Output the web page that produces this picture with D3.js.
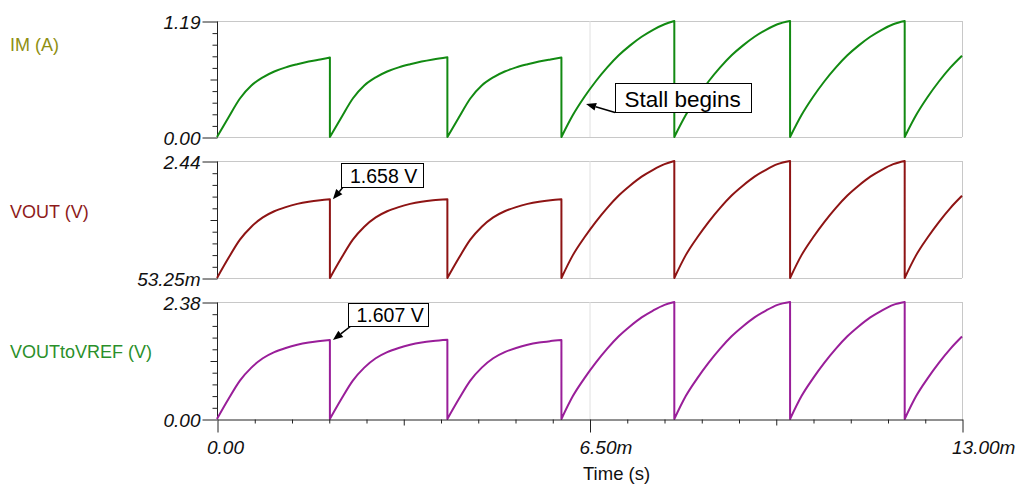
<!DOCTYPE html>
<html><head><meta charset="utf-8">
<script src="https://cdn.jsdelivr.net/npm/d3@7"></script>
<style>
body{margin:0;background:#fff;}
svg{display:block;font-family:"Liberation Sans",Arial,Helvetica,sans-serif;}
</style>
</head><body>
<svg id="chart" width="1018" height="484"></svg>
<script>
// ---------- data ----------
const timeMs = [
  0, 0.2, 0.4, 0.6, 0.8, 1.0, 1.2, 1.4, 1.6, 1.8, 1.97,
  1.97, 2.17, 2.37, 2.57, 2.77, 2.97, 3.17, 3.37, 3.57, 3.77, 4.02,
  4.02, 4.22, 4.42, 4.62, 4.82, 5.02, 5.22, 5.42, 5.62, 5.82, 6.01,
  6.01, 6.21, 6.41, 6.61, 6.81, 7.01, 7.21, 7.41, 7.61, 7.81, 7.98,
  7.98, 8.18, 8.38, 8.58, 8.78, 8.98, 9.18, 9.38, 9.58, 9.78, 10.0,
  10.0, 10.2, 10.4, 10.6, 10.8, 11.0, 11.2, 11.4, 11.6, 11.8, 12.0,
  12.0, 12.2, 12.4, 12.6, 12.8, 13.0
];
const imA = [
  0, 0.20, 0.395, 0.528, 0.612, 0.672, 0.714, 0.746, 0.774, 0.796, 0.815,
  0, 0.20, 0.395, 0.528, 0.612, 0.672, 0.714, 0.746, 0.774, 0.796, 0.818,
  0, 0.20, 0.395, 0.528, 0.612, 0.672, 0.714, 0.746, 0.774, 0.796, 0.815,
  0, 0.225, 0.41, 0.572, 0.714, 0.838, 0.94, 1.028, 1.10, 1.157, 1.19,
  0, 0.225, 0.41, 0.572, 0.714, 0.838, 0.94, 1.028, 1.10, 1.157, 1.19,
  0, 0.225, 0.41, 0.572, 0.714, 0.838, 0.94, 1.028, 1.10, 1.157, 1.19,
  0, 0.225, 0.41, 0.572, 0.714, 0.834
];
const voutV = [
  0.053, 0.46, 0.835, 1.10, 1.29, 1.415, 1.50, 1.565, 1.61, 1.64, 1.658,
  0.053, 0.46, 0.835, 1.10, 1.29, 1.415, 1.50, 1.565, 1.61, 1.64, 1.662,
  0.053, 0.46, 0.835, 1.10, 1.29, 1.415, 1.50, 1.565, 1.61, 1.64, 1.658,
  0.053, 0.52, 0.88, 1.20, 1.485, 1.735, 1.94, 2.12, 2.26, 2.375, 2.44,
  0.053, 0.52, 0.88, 1.20, 1.485, 1.735, 1.94, 2.12, 2.26, 2.375, 2.44,
  0.053, 0.52, 0.88, 1.20, 1.485, 1.735, 1.94, 2.12, 2.26, 2.375, 2.44,
  0.053, 0.52, 0.88, 1.20, 1.485, 1.73
];
const voutToVrefV = [
  0, 0.405, 0.78, 1.045, 1.235, 1.36, 1.445, 1.51, 1.555, 1.585, 1.607,
  0, 0.405, 0.78, 1.045, 1.235, 1.36, 1.445, 1.51, 1.555, 1.585, 1.611,
  0, 0.405, 0.78, 1.045, 1.235, 1.36, 1.445, 1.51, 1.555, 1.585, 1.607,
  0, 0.467, 0.827, 1.147, 1.432, 1.682, 1.887, 2.067, 2.207, 2.322, 2.38,
  0, 0.467, 0.827, 1.147, 1.432, 1.682, 1.887, 2.067, 2.207, 2.322, 2.38,
  0, 0.467, 0.827, 1.147, 1.432, 1.682, 1.887, 2.067, 2.207, 2.322, 2.38,
  0, 0.467, 0.827, 1.147, 1.432, 1.677
];
const seriesNames = ["IM (A)", "VOUT (V)", "VOUTtoVREF (V)"];
const yDomains = [[0, 1.19], [0.05325, 2.44], [0, 2.38]];
const yTickLabels = [["0.00", "1.19"], ["53.25m", "2.44"], ["0.00", "2.38"]];
const xTickValues = [0, 6.5, 13];
const xTickLabels = ["0.00", "6.50m", "13.00m"];
const xTitle = "Time (s)";
const annotationTexts = ["Stall begins", "1.658 V", "1.607 V"];
const annotationPanels = [0, 1, 2];
const annotationTimes = [6.44, 1.97, 1.97];
const annotationValues = [0.339, 1.658, 1.607];

// ---------- layout ----------
const svg = d3.select("#chart");
const X0 = 217, X1 = 962;
const panels = [
  {top: 21, bottom: 137},
  {top: 161, bottom: 278},
  {top: 302, bottom: 419}
];
const lineColors = ["#128a12", "#8e1414", "#991e99"];
const labelColors = ["#8f8f12", "#8e1a1a", "#2a8f2a"];
const labelY = [45, 212, 352];
const seriesValues = [imA, voutV, voutToVrefV];

const x = d3.scaleLinear().domain([0, 13]).range([X0, X1]);

function segmentedPath(xs, ys, xScale, yScale) {
  const segs = [];
  let cur = [[xScale(xs[0]), yScale(ys[0])]];
  for (let i = 1; i < xs.length; i++) {
    const p = [xScale(xs[i]), yScale(ys[i])];
    if (xs[i] === xs[i - 1]) { segs.push(cur); cur = [p]; }
    else cur.push(p);
  }
  segs.push(cur);
  const gen = d3.line().curve(d3.curveMonotoneX);
  return segs.map((s, k) => {
    const d = gen(s);
    return k ? "L" + d.slice(1) : d;
  }).join("");
}

panels.forEach((p, i) => {
  const y = d3.scaleLinear().domain(yDomains[i]).range([p.bottom, p.top]);
  p.y = y;
  const g = svg.append("g");
  // grid frame
  g.append("line").attr("x1", X0).attr("x2", X1).attr("y1", p.top + 0.5).attr("y2", p.top + 0.5)
    .attr("stroke", "#c8c8c8").attr("stroke-width", 1);
  g.append("line").attr("x1", X1 + 0.5).attr("x2", X1 + 0.5).attr("y1", p.top).attr("y2", p.bottom)
    .attr("stroke", "#c8c8c8").attr("stroke-width", 1);
  if (i < 2) {
    g.append("line").attr("x1", X0).attr("x2", X1).attr("y1", p.bottom + 0.5).attr("y2", p.bottom + 0.5)
      .attr("stroke", "#c8c8c8").attr("stroke-width", 1);
  }
  g.append("line").attr("x1", x(6.5) + 0.5).attr("x2", x(6.5) + 0.5).attr("y1", p.top).attr("y2", p.bottom)
    .attr("stroke", "#e0e0e0").attr("stroke-width", 1);

  // y axis: minor, mid, major ticks
  const d0 = yDomains[i][0], d1 = yDomains[i][1];
  const minorVals = d3.range(1, 10).filter(k => k !== 5).map(k => d0 + k * (d1 - d0) / 10);
  const axG = g.append("g").attr("transform", `translate(${X0 + 0.5},0.5)`);
  axG.append("g").call(d3.axisLeft(y).tickValues(minorVals).tickSize(5).tickFormat(""))
    .call(a => a.select(".domain").remove());
  axG.append("g").call(d3.axisLeft(y).tickValues([d0 + (d1 - d0) / 2]).tickSize(7).tickFormat(""))
    .call(a => a.select(".domain").remove());
  axG.append("g").call(d3.axisLeft(y).tickValues([d0, d1]).tickSize(15).tickPadding(2)
      .tickFormat((v, k) => yTickLabels[i][k]))
    .call(a => a.select(".domain").attr("d", `M0,${p.top}V${p.bottom}`))
    .call(a => a.selectAll("text").attr("font-size", 19).attr("font-style", "italic")
      .attr("fill", "#111").attr("font-family", '"Liberation Sans",Arial,sans-serif').attr("dy", "0.36em"));
  axG.selectAll("line,path").attr("stroke", "#222");

  // series label
  svg.append("text").attr("x", 10).attr("y", labelY[i]).attr("dy", "0.36em")
    .attr("font-size", 18).attr("fill", labelColors[i]).text(seriesNames[i]);

  // series line
  svg.append("path").attr("d", segmentedPath(timeMs, seriesValues[i], x, y))
    .attr("fill", "none").attr("stroke", lineColors[i]).attr("stroke-width", 2)
    .attr("stroke-linejoin", "round");
});

// x axis at bottom of last panel
const xb = panels[2].bottom;
const xa = svg.append("g").attr("transform", `translate(0.5,${xb + 0.5})`);
const minorX = d3.range(0, 21).filter(k => k % 5 !== 0).map(k => k * 13 / 20);
xa.append("g").call(d3.axisBottom(x).tickValues(minorX).tickSize(4).tickFormat(""))
  .call(a => a.select(".domain").remove());
xa.append("g").call(d3.axisBottom(x).tickValues([3.25, 9.75]).tickSize(6).tickFormat(""))
  .call(a => a.select(".domain").remove());
xa.append("g").call(d3.axisBottom(x).tickValues(xTickValues).tickSize(13).tickSizeOuter(0)
    .tickFormat((v, k) => xTickLabels[k]))
  .call(a => a.selectAll("text").attr("font-size", 19).attr("font-style", "italic")
    .attr("fill", "#111").attr("font-family", '"Liberation Sans",Arial,sans-serif')
    .attr("text-anchor", "start").attr("x", -11).attr("y", 34).attr("dy", 0));
xa.selectAll("line,path").attr("stroke", "#222");

svg.append("text").attr("x", 583).attr("y", 480).attr("font-size", 18.5).attr("fill", "#111").text(xTitle);

// annotations
const boxSpecs = [
  {dx: 29, dy: -21, w: 136, h: 29, fs: 22.5, tx: 9, ty: 23, lx: 29, ly: 8.5},
  {dx: 8, dy: -36, w: 82, h: 24, fs: 19.5, tx: 8.5, ty: 19, lx: 10, ly: -12},
  {dx: 15, dy: -37, w: 80, h: 23, fs: 19.5, tx: 8, ty: 18.5, lx: 18, ly: -14}
];
annotationTexts.forEach((t, i) => {
  const p = panels[annotationPanels[i]];
  const tipX = x(annotationTimes[i]) + (i === 0 ? 0 : 3);
  const tipY = p.y(annotationValues[i]);
  const b = boxSpecs[i];
  const bx = Math.round(tipX + b.dx) + 0.5, by = Math.round(tipY + b.dy) + 0.5;
  const sx = tipX + b.lx, sy = tipY + b.ly;
  // arrow line
  const ang = Math.atan2(tipY - sy, tipX - sx);
  const L = 10, W = 4;
  const bxh = tipX - L * Math.cos(ang), byh = tipY - L * Math.sin(ang);
  svg.append("line").attr("x1", sx).attr("y1", sy).attr("x2", bxh).attr("y2", byh)
    .attr("stroke", "#000").attr("stroke-width", 1.5);
  svg.append("path").attr("d",
      `M${tipX},${tipY}L${bxh + W * Math.sin(ang)},${byh - W * Math.cos(ang)}L${bxh - W * Math.sin(ang)},${byh + W * Math.cos(ang)}Z`)
    .attr("fill", "#000");
  svg.append("rect").attr("x", bx).attr("y", by).attr("width", b.w).attr("height", b.h)
    .attr("fill", "#fff").attr("stroke", "#000").attr("stroke-width", 1);
  svg.append("text").attr("x", bx + b.tx).attr("y", by + b.ty).attr("font-size", b.fs)
    .attr("fill", "#000").text(t);
});
</script>
</body></html>
